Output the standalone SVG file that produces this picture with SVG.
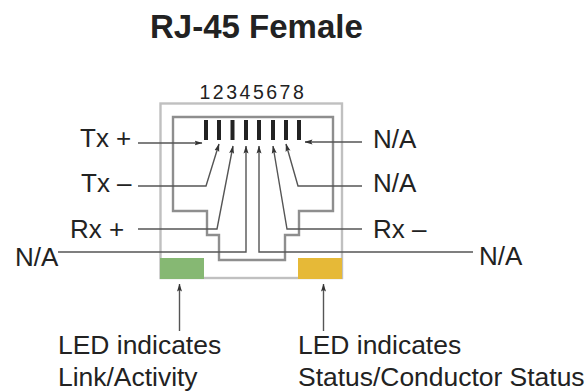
<svg xmlns="http://www.w3.org/2000/svg" width="587" height="391" viewBox="0 0 587 391">
<defs>
<marker id="a" markerWidth="8" markerHeight="6" refX="7.500" refY="3" orient="auto" markerUnits="userSpaceOnUse"><path d="M0 0.500L8 3L0 5.500L1.500 3Z" fill="#333"/></marker>
</defs>
<style>
text{font-family:"Liberation Sans",Arial,sans-serif;fill:#222;font-size:26px}
.l{font-size:26.450px}
.c{fill:none;stroke:#555;stroke-width:1.4}
.g{fill:none;stroke:#8e8e8e;stroke-width:2.4}
.p{fill:#222}
</style>
<rect width="587" height="391" fill="#fff"/>
<text x="150" y="38" style="font-size:33px;font-weight:bold">RJ-45 Female</text>
<g id="jack">
<rect class="g" x="160.500" y="103.500" width="181.500" height="174.500" style="stroke:#c0c0c0"/>
<path class="g" d="M173 211V117H333V211H299V235H285V260H219V235H207V211Z"/>
<rect x="160" y="258" width="44" height="21" fill="#86b873"/>
<rect x="298" y="258" width="44" height="21" fill="#e6b937"/>
</g>
<g id="pins">
<rect class="p" x="204" y="120" width="4" height="20"/>
<rect class="p" x="217" y="120" width="4" height="20"/>
<rect class="p" x="230.500" y="120" width="4" height="20"/>
<rect class="p" x="244" y="120" width="4" height="20"/>
<rect class="p" x="257" y="120" width="4" height="20"/>
<rect class="p" x="271" y="120" width="4" height="20"/>
<rect class="p" x="284" y="120" width="4" height="20"/>
<rect class="p" x="297" y="120" width="4" height="20"/>
</g>
<g id="connectors">
<path class="c" d="M138 143H202" marker-end="url(#a)"/>
<path class="c" d="M138 186H206L219 144" marker-end="url(#a)"/>
<path class="c" d="M138 229H217L233 146" marker-end="url(#a)"/>
<path class="c" d="M58 252H246V146" marker-end="url(#a)"/>
<path class="c" d="M473 252H259V146" marker-end="url(#a)"/>
<path class="c" d="M362 229H287L273 146" marker-end="url(#a)"/>
<path class="c" d="M362 186H298L286 144" marker-end="url(#a)"/>
<path class="c" d="M362 142H305" marker-end="url(#a)"/>
<path class="c" d="M179.500 331V284" marker-end="url(#a)"/>
<path class="c" d="M323.500 331V284" marker-end="url(#a)"/>
</g>
<g id="labels">
<text x="199.500" y="98.500" style="font-size:19.500px;letter-spacing:2.500px">12345678</text>
<text x="80" y="147">Tx +</text>
<text x="81" y="192">Tx –</text>
<text x="70" y="238">Rx +</text>
<text x="15" y="266">N/A</text>
<text x="373" y="148">N/A</text>
<text x="373" y="192">N/A</text>
<text x="373" y="238">Rx –</text>
<text x="479" y="265">N/A</text>
<text class="l" x="58" y="354">LED indicates</text>
<text class="l" x="58" y="386">Link/Activity</text>
<text class="l" x="298" y="354">LED indicates</text>
<text class="l" x="298" y="386">Status/Conductor Status</text>
</g>
</svg>
